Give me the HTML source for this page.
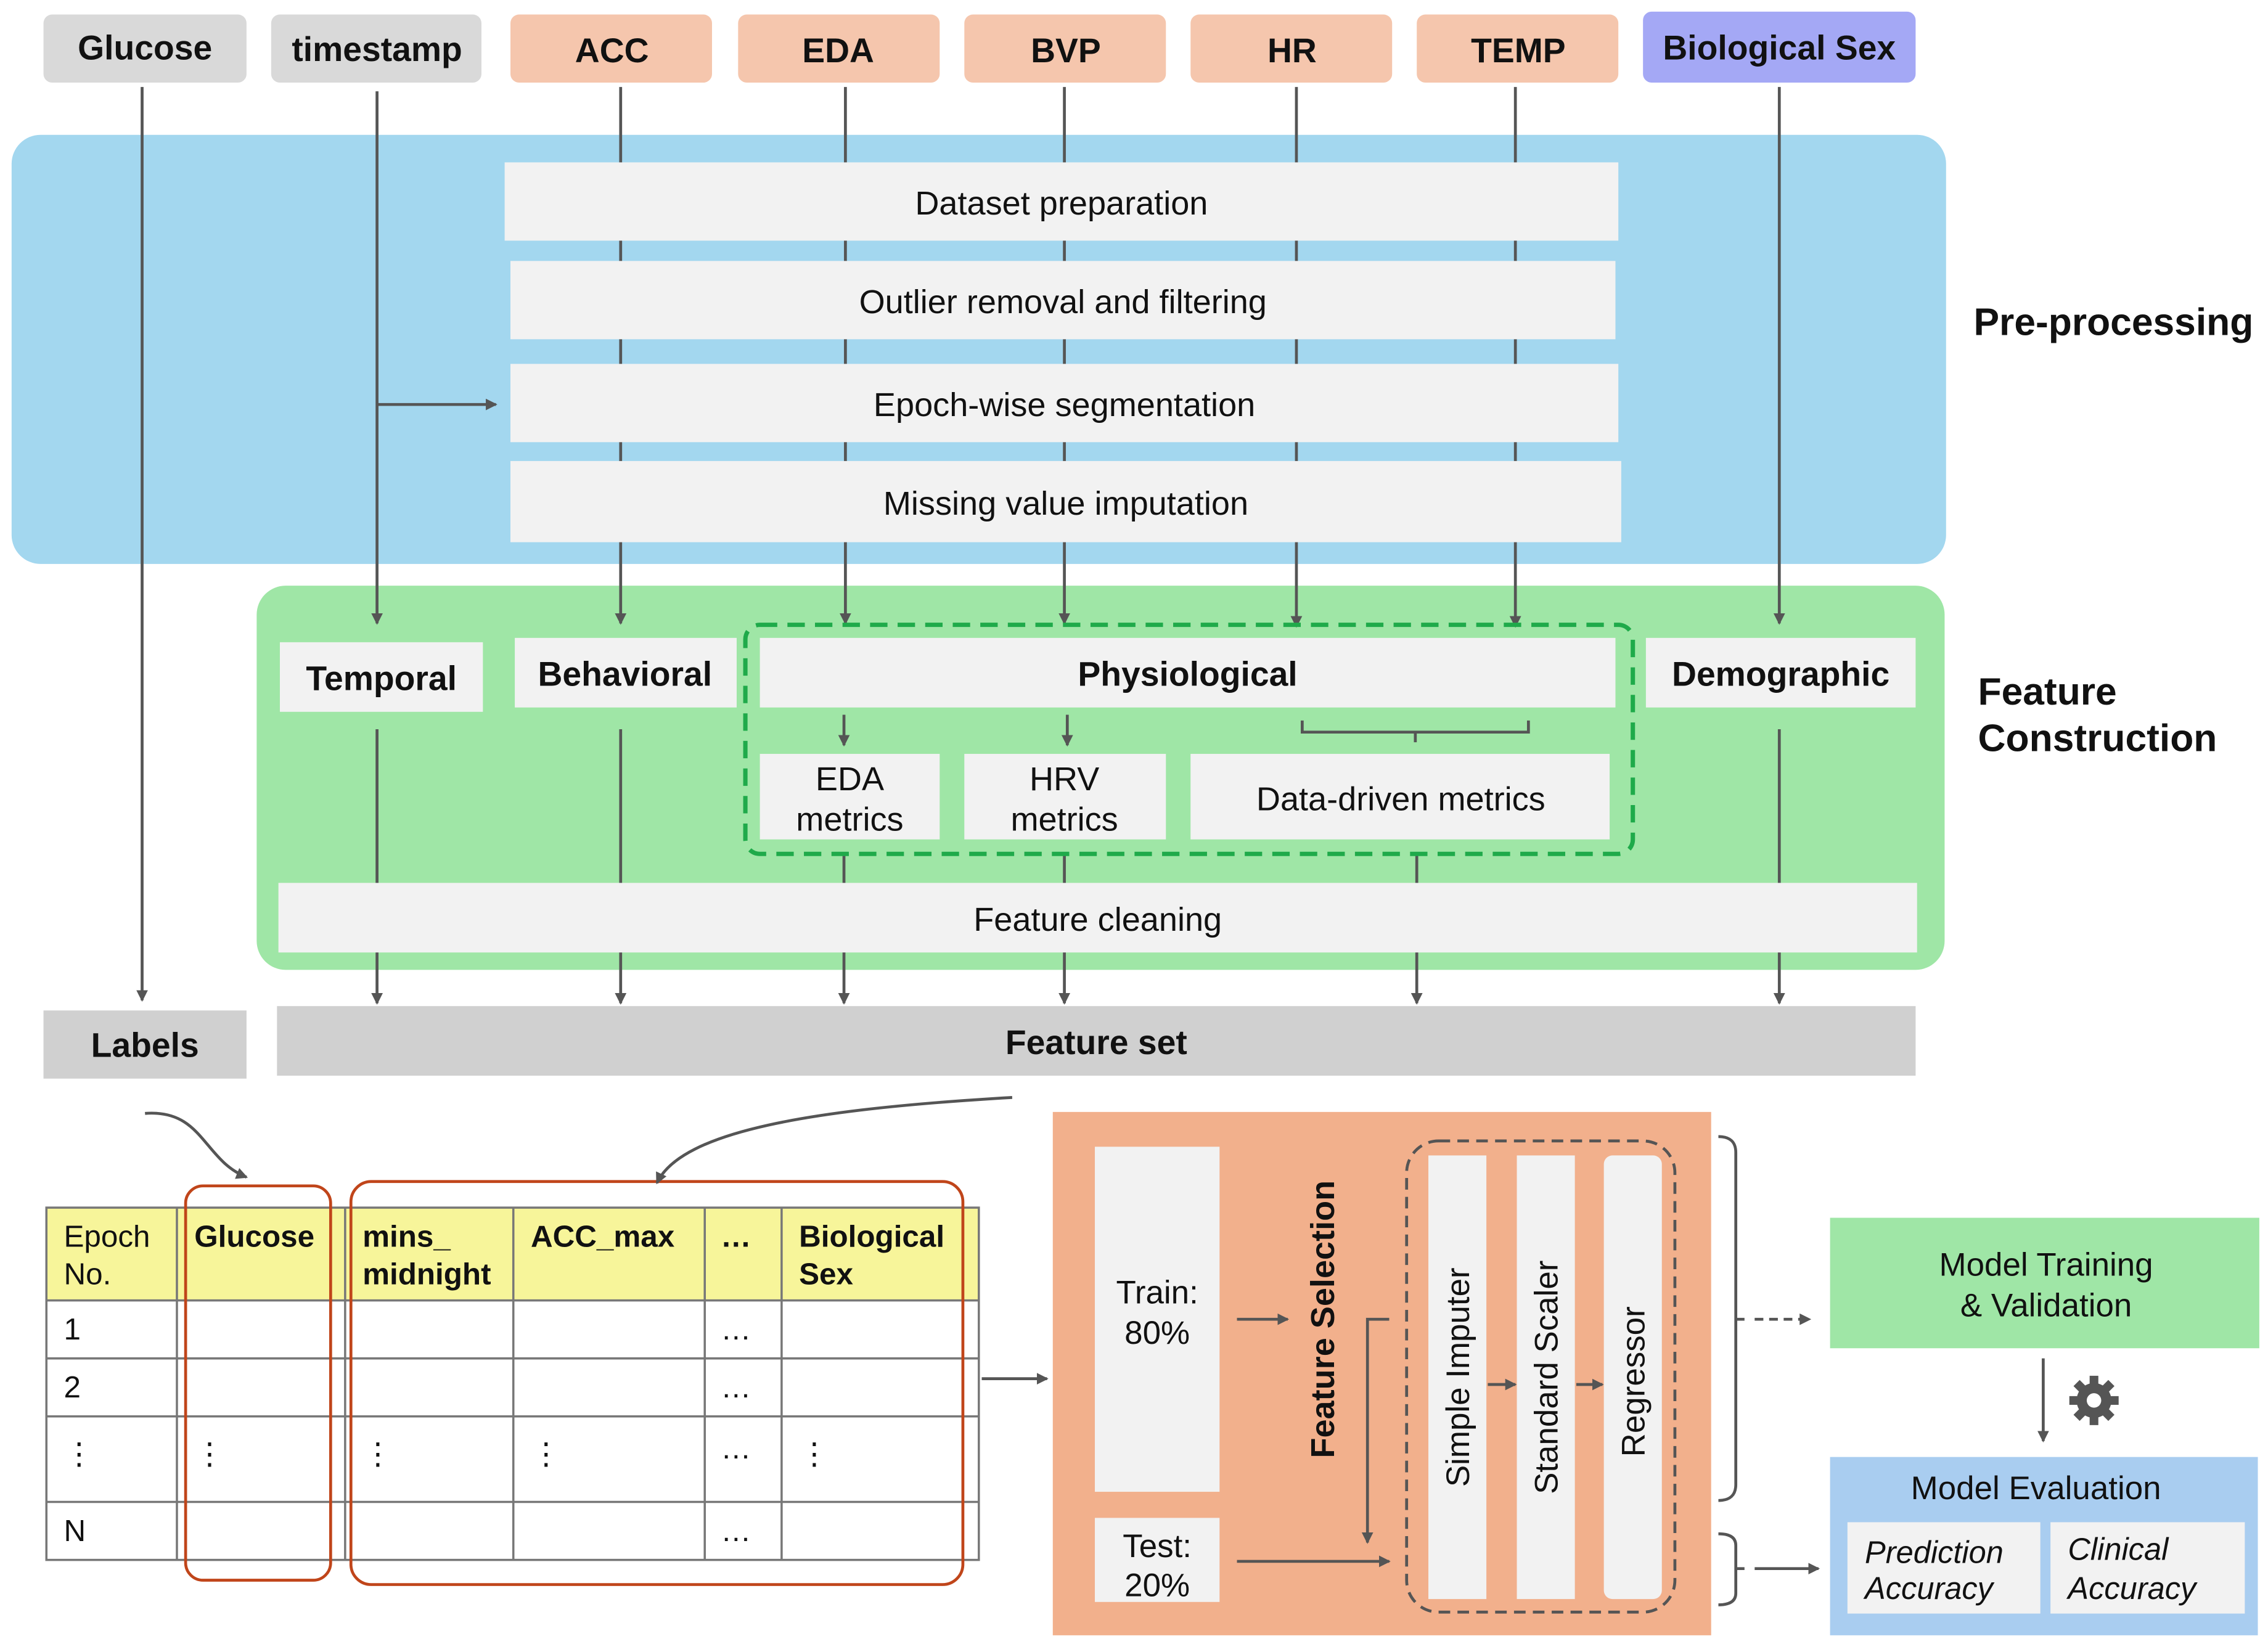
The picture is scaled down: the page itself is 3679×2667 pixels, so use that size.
<!DOCTYPE html>
<html><head><meta charset="utf-8"><style>html,body{margin:0;padding:0;background:#fff}svg{display:block}text{font-family:"Liberation Sans",Arial,sans-serif;fill:#111}</style></head>
<body>
<svg width="3679" height="2667" viewBox="0 0 1564 1134" preserveAspectRatio="none" xmlns="http://www.w3.org/2000/svg">
<defs>
<marker id="a" markerWidth="8" markerHeight="8" refX="7" refY="4" orient="auto" markerUnits="userSpaceOnUse"><path d="M0,0 L8,4 L0,8 z" fill="#555"/></marker>
</defs>
<g font-size="23.5" font-weight="bold" text-anchor="middle">
<rect x="30" y="10" width="140" height="47" rx="6" fill="#d9d9d9"/><text x="100" y="41">Glucose</text>
<rect x="187" y="10" width="145" height="47" rx="6" fill="#d9d9d9"/><text x="260" y="42">timestamp</text>
<rect x="352" y="10" width="139" height="47" rx="6" fill="#f5c6ad"/><text x="422" y="43">ACC</text>
<rect x="509" y="10" width="139" height="47" rx="6" fill="#f5c6ad"/><text x="578" y="43">EDA</text>
<rect x="665" y="10" width="139" height="47" rx="6" fill="#f5c6ad"/><text x="735" y="43">BVP</text>
<rect x="821" y="10" width="139" height="47" rx="6" fill="#f5c6ad"/><text x="891" y="43">HR</text>
<rect x="977" y="10" width="139" height="47" rx="6" fill="#f5c6ad"/><text x="1047" y="43">TEMP</text>
<rect x="1133" y="8" width="188" height="49" rx="6" fill="#a4a8f5"/><text x="1227" y="41">Biological Sex</text>
</g>
<rect x="8" y="93" width="1334" height="296" rx="20" fill="#a3d7ef"/>
<rect x="177" y="404" width="1164" height="265" rx="20" fill="#9fe6a6"/>
<g stroke="#555" stroke-width="2" fill="none">
<line x1="98" y1="60" x2="98" y2="690" marker-end="url(#a)"/>
<line x1="260" y1="63" x2="260" y2="430" marker-end="url(#a)"/>
<line x1="260" y1="279" x2="342" y2="279" marker-end="url(#a)"/>
<line x1="428" y1="60" x2="428" y2="430" marker-end="url(#a)"/>
<line x1="583" y1="60" x2="583" y2="430" marker-end="url(#a)"/>
<line x1="734" y1="60" x2="734" y2="430" marker-end="url(#a)"/>
<line x1="894" y1="60" x2="894" y2="432" marker-end="url(#a)"/>
<line x1="1045" y1="60" x2="1045" y2="432" marker-end="url(#a)"/>
<line x1="1227" y1="60" x2="1227" y2="430" marker-end="url(#a)"/>
<line x1="260" y1="503" x2="260" y2="692" marker-end="url(#a)"/>
<line x1="428" y1="503" x2="428" y2="692" marker-end="url(#a)"/>
<line x1="582" y1="493" x2="582" y2="514" marker-end="url(#a)"/>
<line x1="736" y1="493" x2="736" y2="514" marker-end="url(#a)"/>
<line x1="582" y1="589" x2="582" y2="692" marker-end="url(#a)"/>
<line x1="734" y1="589" x2="734" y2="692" marker-end="url(#a)"/>
<line x1="977" y1="589" x2="977" y2="692" marker-end="url(#a)"/>
<line x1="1227" y1="503" x2="1227" y2="692" marker-end="url(#a)"/>
<path d="M898,497 V505 H1054 V497 M976,505 V512"/>
</g>
<g font-size="23" text-anchor="middle">
<rect x="348" y="112" width="768" height="54" fill="#f2f2f2"/><text x="732" y="148">Dataset preparation</text>
<rect x="352" y="180" width="762" height="54" fill="#f2f2f2"/><text x="733" y="216">Outlier removal and filtering</text>
<rect x="352" y="251" width="764" height="54" fill="#f2f2f2"/><text x="734" y="287">Epoch-wise segmentation</text>
<rect x="352" y="318" width="766" height="56" fill="#f2f2f2"/><text x="735" y="355">Missing value imputation</text>
</g>
<g font-size="26.5" font-weight="bold"><text x="1361" y="231">Pre-processing</text><text x="1364" y="486">Feature</text><text x="1364" y="518">Construction</text></g>
<g font-size="23.5" font-weight="bold" text-anchor="middle">
<rect x="193" y="443" width="140" height="48" fill="#f2f2f2"/><text x="263" y="476">Temporal</text>
<rect x="355" y="440" width="153" height="48" fill="#f2f2f2"/><text x="431" y="473">Behavioral</text>
<rect x="524" y="440" width="590" height="48" fill="#f2f2f2"/><text x="819" y="473">Physiological</text>
<rect x="1135" y="440" width="186" height="48" fill="#f2f2f2"/><text x="1228" y="473">Demographic</text>
</g>
<rect x="514" y="431" width="612" height="158" rx="10" fill="none" stroke="#1faa4a" stroke-width="3" stroke-dasharray="12,7"/>
<g font-size="23" text-anchor="middle">
<rect x="524" y="520" width="124" height="59" fill="#f2f2f2"/><text x="586" y="545">EDA</text><text x="586" y="573">metrics</text>
<rect x="665" y="520" width="139" height="59" fill="#f2f2f2"/><text x="734" y="545">HRV</text><text x="734" y="573">metrics</text>
<rect x="821" y="520" width="289" height="59" fill="#f2f2f2"/><text x="966" y="559">Data-driven metrics</text>
<rect x="192" y="609" width="1130" height="48" fill="#f2f2f2"/><text x="757" y="642">Feature cleaning</text>
</g>
<g font-size="23.5" font-weight="bold" text-anchor="middle">
<rect x="30" y="697" width="140" height="47" fill="#d0d0d0"/><text x="100" y="729">Labels</text>
<rect x="191" y="694" width="1130" height="48" fill="#d0d0d0"/><text x="756" y="727">Feature set</text>
</g>
<rect x="32" y="833" width="643" height="64" fill="#f7f59a"/>
<g stroke="#777" stroke-width="1.5" fill="none">
<rect x="32" y="833" width="643" height="243"/>
<path d="M122,833V1076M238,833V1076M354,833V1076M486,833V1076M539,833V1076M32,897H675M32,937H675M32,977H675M32,1036H675"/>
</g>
<g font-size="21">
<text x="44" y="860">Epoch</text><text x="44" y="886">No.</text>
<g font-weight="bold"><text x="134" y="860">Glucose</text><text x="250" y="860">mins_</text><text x="250" y="886">midnight</text><text x="366" y="860">ACC_max</text><text x="497" y="860">…</text><text x="551" y="860">Biological</text><text x="551" y="886">Sex</text></g>
<text x="44" y="924">1</text><text x="44" y="964">2</text><text x="44" y="1063">N</text>
<text x="497" y="924">…</text><text x="497" y="964">…</text><text x="497" y="1006">…</text><text x="497" y="1063">…</text>
<text x="44" y="1010">⋮</text><text x="134" y="1010">⋮</text><text x="250" y="1010">⋮</text><text x="366" y="1010">⋮</text><text x="551" y="1010">⋮</text>
</g>
<g stroke="#c0451a" stroke-width="2" fill="none">
<rect x="128" y="818" width="100" height="272" rx="12"/>
<rect x="242" y="815" width="422" height="278" rx="14"/>
</g>
<g stroke="#555" stroke-width="2" fill="none">
<path d="M100,768 C140,765 140,800 170,812" marker-end="url(#a)"/>
<path d="M698,757 C560,765 470,780 453,816" marker-end="url(#a)"/>
<line x1="677" y1="951" x2="722" y2="951" marker-end="url(#a)"/>
</g>
<rect x="726" y="767" width="454" height="361" fill="#f2b08c"/>
<rect x="755" y="791" width="86" height="238" fill="#f2f2f2"/>
<rect x="755" y="1047" width="86" height="58" fill="#f2f2f2"/>
<g font-size="22.5" text-anchor="middle"><text x="798" y="899">Train:</text><text x="798" y="927">80%</text><text x="798" y="1074">Test:</text><text x="798" y="1101">20%</text></g>
<text x="0" y="0" font-size="23" font-weight="bold" text-anchor="middle" transform="translate(920,910) rotate(-90)">Feature Selection</text>
<rect x="970" y="787" width="185" height="325" rx="22" fill="none" stroke="#555" stroke-width="2" stroke-dasharray="8,5"/>
<rect x="985" y="797" width="40" height="306" fill="#f2f2f2"/>
<rect x="1046" y="797" width="40" height="306" fill="#f2f2f2"/>
<rect x="1106" y="797" width="40" height="306" rx="6" fill="#f2f2f2"/>
<g font-size="22.5" text-anchor="middle">
<text transform="translate(1013,950) rotate(-90)">Simple Imputer</text>
<text transform="translate(1074,950) rotate(-90)">Standard Scaler</text>
<text transform="translate(1134,953) rotate(-90)">Regressor</text>
</g>
<g stroke="#555" stroke-width="2" fill="none">
<line x1="853" y1="910" x2="888" y2="910" marker-end="url(#a)"/>
<line x1="853" y1="1077" x2="958" y2="1077" marker-end="url(#a)"/>
<path d="M958,910 H943 V1064" marker-end="url(#a)"/>
<line x1="1026" y1="955" x2="1045" y2="955" marker-end="url(#a)"/>
<line x1="1087" y1="955" x2="1105" y2="955" marker-end="url(#a)"/>
<path d="M1185,784 Q1197,784 1197,795 V1024 Q1197,1035 1185,1035 M1197,910 H1203"/>
<line x1="1210" y1="910" x2="1248" y2="910" marker-end="url(#a)" stroke-dasharray="6,4"/>
<path d="M1185,1058 Q1197,1058 1197,1066 V1099 Q1197,1107 1185,1107 M1197,1082 H1203"/>
<line x1="1210" y1="1082" x2="1254" y2="1082" marker-end="url(#a)"/>
<line x1="1409" y1="937" x2="1409" y2="994" marker-end="url(#a)"/>
</g>
<rect x="1262" y="840" width="296" height="90" fill="#9fe6a6"/>
<g font-size="22.5" text-anchor="middle"><text x="1411" y="880">Model Training</text><text x="1411" y="908">&amp; Validation</text></g>
<g transform="translate(1444,966)" fill="#555"><circle r="12"/><g stroke="#555" stroke-width="6"><line x1="0" y1="-17" x2="0" y2="17"/><line x1="-17" y1="0" x2="17" y2="0"/><line x1="-12" y1="-12" x2="12" y2="12"/><line x1="-12" y1="12" x2="12" y2="-12"/></g><circle r="5" fill="#fff"/></g>
<rect x="1262" y="1005" width="295" height="123" fill="#a9cdf0"/>
<text x="1404" y="1034" font-size="22.5" text-anchor="middle">Model Evaluation</text>
<rect x="1274" y="1050" width="133" height="63" fill="#f2f2f2"/>
<rect x="1414" y="1050" width="134" height="63" fill="#f2f2f2"/>
<g font-size="21.5" font-style="italic"><text x="1286" y="1078">Prediction</text><text x="1286" y="1103">Accuracy</text><text x="1426" y="1076">Clinical</text><text x="1426" y="1103">Accuracy</text></g>
</svg>
</body></html>
